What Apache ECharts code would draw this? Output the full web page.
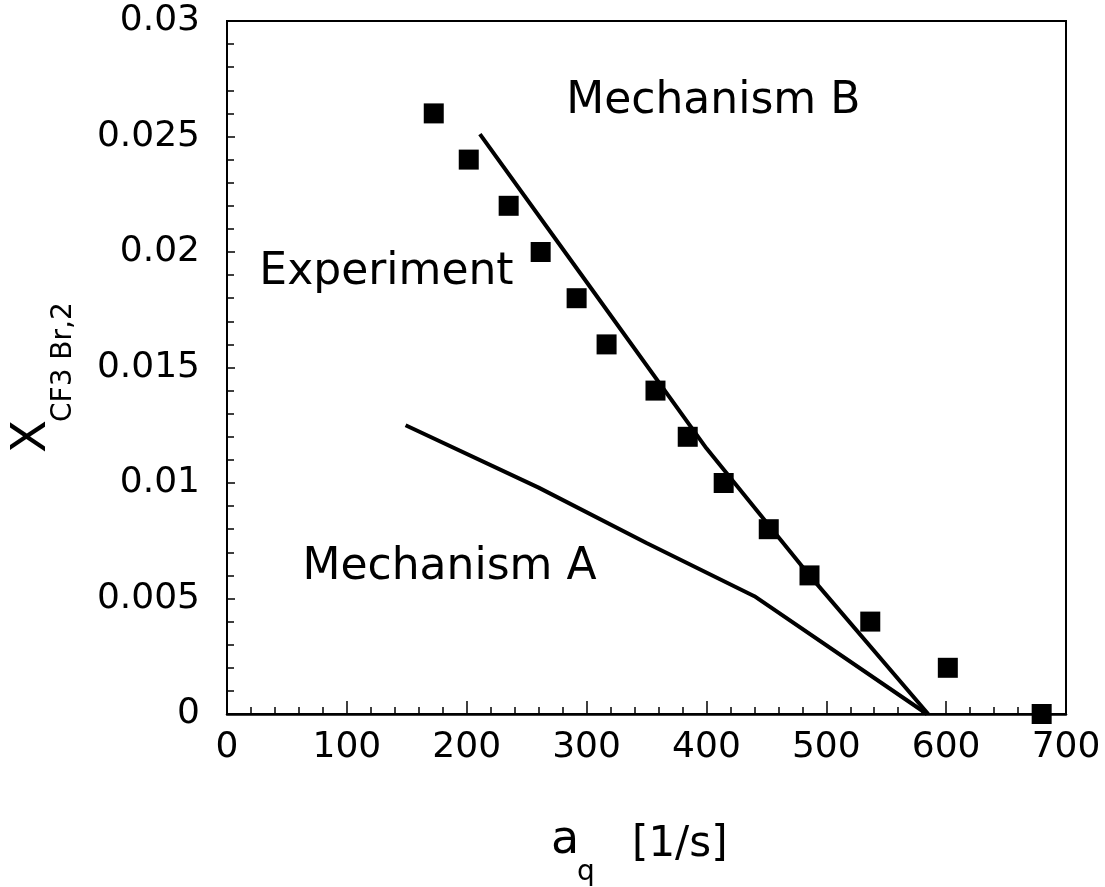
<!DOCTYPE html>
<html>
<head>
<meta charset="utf-8">
<script src="https://cdn.jsdelivr.net/npm/echarts@6/dist/echarts.min.js"></script>
<style>html,body{margin:0;padding:0;background:#fff;}#c{width:1105px;height:887px;}</style>
</head>
<body>
<div id="c"></div>
<script>
// Experiment (squares)
var expX = [172.5, 201.7, 235, 261.7, 291.7, 316.7, 357.5, 384.4, 414.4, 452, 486, 536.7, 601.4, 679.7];
var expY = [0.026, 0.024, 0.022, 0.020, 0.018, 0.016, 0.014, 0.012, 0.010, 0.008, 0.006, 0.004, 0.002, 0.0];
// Mechanism B (line)
var mechBX = [211, 300, 400, 486, 585];
var mechBY = [0.0251, 0.0187, 0.0115, 0.006, 0.0];
// Mechanism A (line)
var mechAX = [149, 260, 350, 440, 584];
var mechAY = [0.0125, 0.0098, 0.0074, 0.0051, 0.0];
// axis ticks
var xTicks = [0, 100, 200, 300, 400, 500, 600, 700];
var yTicks = ['0', '0.005', '0.01', '0.015', '0.02', '0.025', '0.03'];

function pairs(xs, ys) { return xs.map(function (x, i) { return [x, ys[i]]; }); }

var FONT = 'DejaVu Sans';
var chart = echarts.init(document.getElementById('c'), null, { renderer: 'canvas' });
var option = {
  backgroundColor: '#fff',
  animation: false,
  grid: { left: 227, right: 39, top: 21, bottom: 173, show: true, borderColor: '#000', borderWidth: 2, containLabel: false },
  xAxis: {
    type: 'value', min: xTicks[0], max: xTicks[xTicks.length - 1], interval: 100,
    axisLine: { show: true, lineStyle: { color: '#000', width: 2.5 } },
    axisTick: { show: true, inside: true, length: 13, lineStyle: { color: '#000', width: 1.5 } },
    minorTick: { show: true, splitNumber: 5, length: 7, lineStyle: { color: '#000', width: 1.5 } },
    splitLine: { show: false },
    axisLabel: { color: '#000', fontFamily: FONT, fontSize: 36, margin: 16 }
  },
  yAxis: {
    type: 'value', min: 0, max: 0.03, interval: 0.005,
    axisLine: { show: true, lineStyle: { color: '#000', width: 2 } },
    axisTick: { show: true, inside: true, length: 8, lineStyle: { color: '#000', width: 1.5 } },
    minorTick: { show: true, splitNumber: 5, length: 7, lineStyle: { color: '#000', width: 1.5 } },
    splitLine: { show: false },
    axisLabel: {
      color: '#000', fontFamily: FONT, fontSize: 36, margin: 27,
      formatter: function (v) { return yTicks[Math.round(v / 0.005)]; }
    }
  },
  series: [
    { name: 'Experiment', type: 'scatter', symbol: 'rect', symbolSize: 20,
      itemStyle: { color: '#000', opacity: 1 }, data: pairs(expX, expY), z: 3 },
    { name: 'Mechanism B', type: 'line', showSymbol: false, symbol: 'none',
      lineStyle: { color: '#000', width: 4 }, data: pairs(mechBX, mechBY), z: 2 },
    { name: 'Mechanism A', type: 'line', showSymbol: false, symbol: 'none',
      lineStyle: { color: '#000', width: 4 }, data: pairs(mechAX, mechAY), z: 2 }
  ]
};
chart.setOption(option);

function px(x, y) { return chart.convertToPixel({ gridIndex: 0 }, [x, y]); }
var pB = px(283, 0.0265), pE = px(27, 0.0191), pA = px(63, 0.00634);
var txt = function (p, s) {
  return { type: 'text', x: p[0], y: p[1], z: 10,
    style: { text: s, fill: '#000', font: '44px "' + FONT + '"', align: 'left', verticalAlign: 'middle' } };
};
chart.setOption({
  graphic: [
    txt(pB, 'Mechanism B'),
    txt(pE, 'Experiment'),
    txt(pA, 'Mechanism A'),
    // x axis title
    { type: 'text', x: 551, y: 864, style: { text: 'a', fill: '#000', font: '46px "' + FONT + '"', align: 'left', verticalAlign: 'bottom' } },
    { type: 'text', x: 577, y: 887, style: { text: 'q', fill: '#000', font: '28px "' + FONT + '"', align: 'left', verticalAlign: 'bottom' } },
    { type: 'text', x: 632, y: 866, style: { text: '[1/s]', fill: '#000', font: '42px "' + FONT + '"', align: 'left', verticalAlign: 'bottom' } },
    // y axis title (rotated)
    { type: 'text', x: 33, y: 453, rotation: Math.PI / 2, style: { text: 'X', fill: '#000', font: '48px "' + FONT + '"', align: 'left', verticalAlign: 'middle' } },
    { type: 'text', x: 64, y: 422, rotation: Math.PI / 2, style: { text: 'CF3 Br,2', fill: '#000', font: '28px "' + FONT + '"', align: 'left', verticalAlign: 'middle' } }
  ]
});
</script>
</body>
</html>
